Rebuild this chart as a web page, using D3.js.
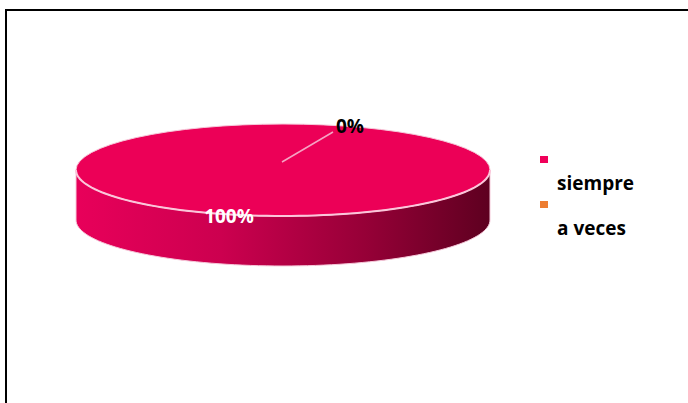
<!DOCTYPE html>
<html>
<head>
<meta charset="utf-8">
<script src="https://cdn.jsdelivr.net/npm/d3@7"></script>
<style>
  html, body { margin: 0; padding: 0; background: #fff; }
  svg { display: block; }
  text { font-family: "Open Sans", "Liberation Sans", sans-serif; font-weight: 700; }
</style>
</head>
<body>
<svg id="chart" width="688" height="403"></svg>
<script>
// Survey answers and their shares (percent)
const categories = ["siempre", "a veces"];
const values = [100, 0];
const valueLabels = ["100%", "0%"];
const colors = ["#EC0057", "#ED7D31"];
const legendColors = ["#F0005A", "#ED7D31"];

const W = 688, H = 403;
const svg = d3.select("#chart");

// Outer frame (only the top and left edges fall inside the window)
svg.append("rect")
  .attr("x", 6).attr("y", 10)
  .attr("width", W + 20).attr("height", H + 20)
  .attr("fill", "#fff")
  .attr("stroke", "#000").attr("stroke-width", 2);

// 3D pie geometry
const cx = 283, cy = 170, rx = 207, ry = 46, depth = 50;

const pie = d3.pie().sort(null).value(d => d).startAngle(0).endAngle(2 * Math.PI);
const arcs = pie(values);

const defs = svg.append("defs");
const sideGrad = defs.append("linearGradient")
  .attr("id", "sideGrad")
  .attr("gradientUnits", "userSpaceOnUse")
  .attr("x1", cx - rx).attr("x2", cx + rx).attr("y1", 0).attr("y2", 0);
sideGrad.append("stop").attr("offset", "0%").attr("stop-color", "#E8005A");
sideGrad.append("stop").attr("offset", "35%").attr("stop-color", "#CC004F");
sideGrad.append("stop").attr("offset", "70%").attr("stop-color", "#960037");
sideGrad.append("stop").attr("offset", "100%").attr("stop-color", "#5E0020");

const glow = defs.append("filter").attr("id", "glow")
  .attr("x", "-5%").attr("y", "-20%").attr("width", "110%").attr("height", "140%");
glow.append("feGaussianBlur").attr("stdDeviation", 0.6);

// Point on the top ellipse for a d3 arc angle (clockwise from 12 o'clock)
const ex = a => cx + rx * Math.sin(a);
const ey = a => cy - ry * Math.cos(a);

// Side wall path for the visible (front) part of a slice
function sidePath(a0, a1) {
  const lo = Math.max(a0, Math.PI / 2), hi = Math.min(a1, 3 * Math.PI / 2);
  if (hi <= lo) return null;
  const n = 80;
  const pts = d3.range(n + 1).map(i => lo + (hi - lo) * i / n);
  let p = "M" + pts.map(a => [ex(a), ey(a)].join(",")).join("L");
  p += "L" + pts.slice().reverse().map(a => [ex(a), ey(a) + depth].join(",")).join("L");
  return p + "Z";
}

// Side walls
arcs.forEach((d, i) => {
  const p = sidePath(d.startAngle, d.endAngle);
  if (p) {
    svg.append("path").attr("d", p)
      .attr("fill", i === 0 ? "url(#sideGrad)" : colors[i])
      .attr("stroke", "#F6C9DA").attr("stroke-width", 1);
  }
});

// Top faces (no seams between slices)
const arc = d3.arc().innerRadius(0).outerRadius(rx);
svg.append("g")
  .attr("transform", `translate(${cx},${cy}) scale(1,${ry / rx})`)
  .selectAll("path")
  .data(arcs)
  .join("path")
  .attr("d", arc)
  .attr("fill", (d, i) => colors[i]);

// Soft outline around the top face
svg.append("ellipse")
  .attr("cx", cx).attr("cy", cy).attr("rx", rx).attr("ry", ry)
  .attr("fill", "none")
  .attr("stroke", "#F6C9DA").attr("stroke-width", 1);

// Light rim along the front edge of the top face
const rimPts = d3.range(81).map(i => Math.PI / 2 + Math.PI * i / 80);
svg.append("path")
  .attr("d", d3.line()(rimPts.map(a => [ex(a), ey(a)])))
  .attr("fill", "none")
  .attr("stroke", "#FBC6DA")
  .attr("stroke-width", 2)
  .attr("filter", "url(#glow)");

// Value labels
// Large slice: label inside, on the front rim
svg.append("text")
  .attr("x", cx - 54).attr("y", cy + 53)
  .attr("text-anchor", "middle")
  .attr("font-size", 19)
  .attr("fill", "#fff")
  .text(valueLabels[0]);

// Zero slice: label outside with a leader line
const zeroMid = (arcs[1].startAngle + arcs[1].endAngle) / 2;
const lead0 = [ex(zeroMid) - 1, cy - 8];
const lead1 = [cx + 50, cy - 38];
svg.append("line")
  .attr("x1", lead0[0]).attr("y1", lead0[1])
  .attr("x2", lead1[0]).attr("y2", lead1[1])
  .attr("stroke", "#F5A3C3").attr("stroke-width", 1.5);
svg.append("text")
  .attr("x", lead1[0] + 3).attr("y", lead1[1] + 1)
  .attr("font-size", 19)
  .attr("fill", "#000")
  .text(valueLabels[1]);

// Legend
const legend = svg.append("g").attr("transform", "translate(540,156)");
const item = legend.selectAll("g").data(categories).join("g")
  .attr("transform", (d, i) => `translate(0,${i * 45})`);
item.append("rect")
  .attr("width", 8).attr("height", 7)
  .attr("fill", (d, i) => legendColors[i]);
item.append("text")
  .attr("x", 17).attr("y", 34)
  .attr("font-size", 19)
  .attr("fill", "#000")
  .text(d => d);
</script>
</body>
</html>
